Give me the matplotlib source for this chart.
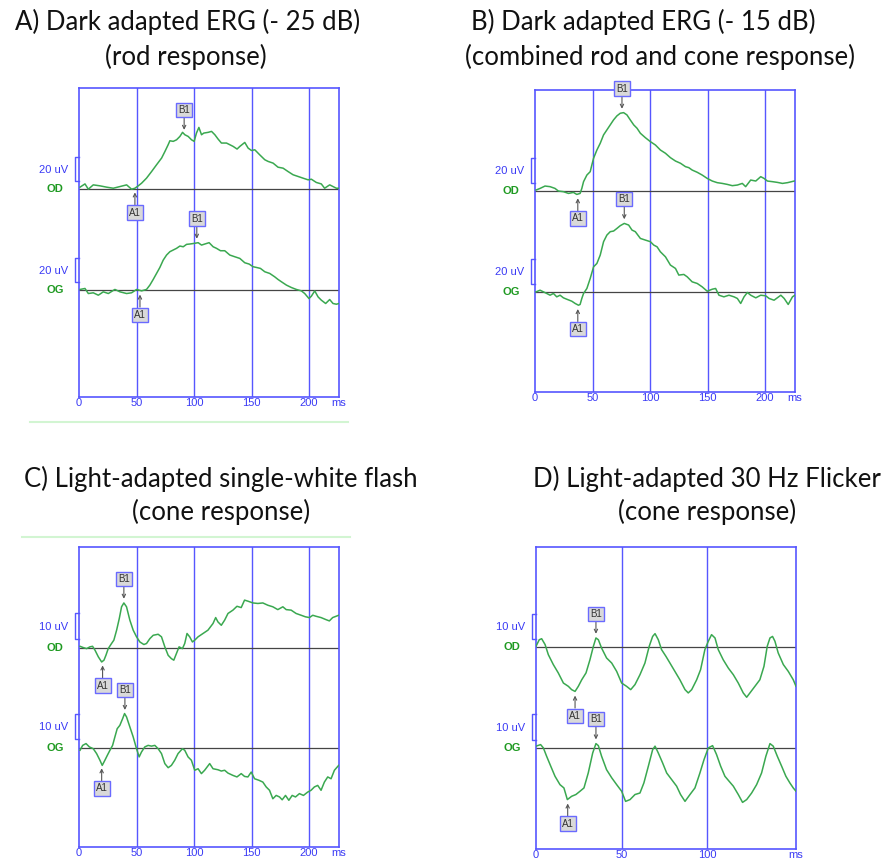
import numpy as np
import matplotlib
matplotlib.use("Agg")
import matplotlib.pyplot as plt
from matplotlib.lines import Line2D

plt.rcParams['font.family'] = ['Liberation Sans', 'DejaVu Sans']

# ERG traces: (time ms, amplitude uV)
a_od = [(0.9, 1.7), (5.2, 4.4), (8.1, 0.0), (12.4, 3.6), (18.2, 2.8), (24.0, 1.7), (29.8, 0.8),
        (35.6, 2.2), (41.4, 3.6), (45.7, 0.0), (48.6, 0.8), (51.5, 2.8), (54.4, 5.0), (58.7, 9.2),
        (63.1, 14.7), (67.4, 20.3), (71.8, 25.9), (74.7, 31.4), (77.5, 37.0), (79.0, 40.3),
        (81.9, 39.8), (84.8, 41.1), (87.7, 43.9), (90.0, 47.3), (92.0, 45.3), (94.9, 43.9),
        (97.8, 41.1), (100.1, 39.8), (102.1, 46.7), (104.2, 51.4), (106.5, 45.3), (108.5, 46.7),
        (112.3, 47.3), (115.2, 48.1), (118.1, 45.3), (120.9, 41.7), (123.8, 38.4), (128.2, 38.4),
        (131.1, 37.0), (134.0, 35.6), (137.4, 33.4), (139.8, 35.6), (144.1, 38.9), (147.0, 34.2),
        (149.9, 32.2), (152.8, 32.8), (157.1, 28.6), (161.5, 24.5), (164.4, 23.1), (168.7, 21.7),
        (173.0, 18.3), (177.4, 17.5), (181.7, 14.7), (186.1, 12.0), (190.4, 10.6), (194.7, 9.2),
        (199.1, 7.8), (202.0, 8.3), (206.3, 5.6), (210.6, 4.4), (213.5, 0.8), (217.9, 3.6),
        (220.8, 2.2), (223.7, 0.8), (226.0, 0.8)]
a_og = [(0.9, 0.6), (5.2, 1.4), (8.1, -2.8), (12.4, -2.2), (16.8, -4.2), (21.1, -1.4), (25.5, -2.8),
        (31.2, 0.6), (35.6, -1.4), (41.4, -2.8), (45.7, -2.2), (50.1, 0.6), (54.4, -0.6), (58.7, 0.6),
        (61.6, 4.2), (64.5, 8.9), (67.4, 13.9), (70.3, 18.9), (73.2, 25.0), (76.1, 29.2), (79.0, 32.0),
        (81.9, 33.4), (84.8, 34.8), (87.7, 36.7), (90.6, 36.1), (93.5, 38.1), (96.4, 38.4),
        (100.1, 38.9), (103.6, 39.5), (106.5, 37.5), (109.4, 38.4), (113.1, 39.5), (116.6, 36.1),
        (119.5, 34.8), (123.0, 32.8), (126.7, 32.8), (131.1, 29.2), (135.4, 27.8), (139.8, 26.4),
        (144.1, 22.8), (147.9, 21.7), (151.3, 19.5), (154.2, 18.9), (157.7, 18.1), (161.5, 15.3),
        (165.8, 13.9), (170.1, 11.1), (173.0, 8.9), (175.9, 7.0), (180.3, 4.2), (184.6, 2.2),
        (188.9, 0.6), (193.3, -0.6), (196.2, -2.8), (199.9, -7.0), (202.0, -5.0), (204.9, -0.6),
        (207.8, -5.6), (210.6, -8.3), (214.4, -11.1), (217.9, -7.8), (220.8, -11.1), (223.7, -11.7),
        (226.0, -11.1)]

b_od = [(0.9, 0.8), (4.4, 2.1), (8.7, 4.0), (13.1, 3.5), (17.4, 2.1), (20.3, 0.0), (24.7, -0.5),
        (29.1, -1.9), (33.4, -1.1), (36.3, -2.7), (39.2, -1.9), (40.7, 2.1), (42.2, 7.5), (45.1, 12.8),
        (48.0, 15.5), (49.4, 20.8), (50.9, 26.2), (53.8, 32.8), (56.7, 38.2), (59.6, 44.9),
        (62.5, 48.9), (65.4, 52.9), (68.3, 56.9), (71.2, 60.1), (74.1, 62.2), (77.0, 62.7),
        (79.9, 60.9), (82.8, 56.9), (85.8, 52.9), (88.7, 50.2), (91.6, 46.2), (95.9, 42.7),
        (100.3, 39.5), (104.7, 36.8), (109.0, 32.8), (113.4, 30.2), (117.7, 26.7), (122.1, 24.0),
        (126.5, 22.2), (130.8, 19.5), (133.7, 18.7), (136.6, 16.8), (141.0, 15.0), (145.3, 12.8),
        (149.7, 10.1), (154.1, 8.0), (158.4, 6.7), (162.8, 6.1), (167.2, 5.3), (171.5, 4.3),
        (175.9, 4.8), (180.2, 6.1), (183.1, 3.5), (187.5, 8.8), (191.9, 8.0), (196.2, 11.5),
        (199.1, 10.1), (202.0, 8.0), (206.4, 7.5), (210.8, 6.9), (215.1, 6.1), (219.5, 6.7),
        (225.3, 8.0)]
b_og = [(0.9, 0.0), (4.4, 1.3), (7.3, 0.0), (10.2, -1.3), (13.1, -2.7), (16.0, -1.3), (18.9, -4.0),
        (21.8, -2.7), (24.7, -4.8), (27.6, -5.9), (32.0, -7.5), (34.9, -9.3), (37.8, -10.7),
        (39.2, -10.1), (40.7, -5.3), (42.2, -1.3), (45.1, 2.7), (48.0, 10.7), (50.9, 20.0),
        (53.8, 22.7), (56.7, 29.4), (59.6, 40.1), (62.5, 45.4), (65.4, 48.1), (68.3, 48.6),
        (71.2, 50.7), (74.1, 52.9), (77.6, 54.7), (81.4, 53.4), (84.3, 49.4), (87.2, 48.1),
        (91.6, 42.7), (95.9, 41.4), (100.3, 40.1), (103.2, 37.4), (106.1, 36.0), (109.0, 32.0),
        (113.4, 28.0), (117.7, 21.4), (122.1, 18.7), (125.0, 13.4), (129.4, 13.9), (132.3, 12.0),
        (136.6, 8.0), (141.0, 6.7), (145.3, 4.0), (149.7, 0.5), (154.1, 2.1), (157.0, 2.7),
        (159.9, -2.7), (164.2, -4.0), (168.6, -2.7), (173.0, -4.0), (175.9, -5.3), (178.8, -9.3),
        (181.7, -4.0), (184.6, -0.5), (187.5, -2.7), (191.9, -4.8), (196.2, -2.7), (200.6, -3.2),
        (203.5, -5.3), (207.8, -6.7), (213.7, -2.7), (216.6, -5.3), (220.1, -10.1), (223.8, -4.0),
        (225.9, -2.7)]

c_od = [(0.9, 0.5), (3.8, 0.0), (6.6, -0.4), (9.5, 0.3), (11.8, 0.5), (13.9, -1.0), (16.8, -3.6),
        (19.7, -5.6), (21.7, -4.9), (23.4, -3.0), (25.4, -0.4), (28.3, 1.6), (30.3, 2.9), (32.7, 6.8),
        (35.0, 11.3), (37.0, 15.9), (39.0, 17.4), (41.3, 15.9), (44.2, 10.7), (47.1, 6.8), (50.0, 4.2),
        (52.9, 2.2), (56.4, 1.2), (58.7, 1.6), (61.6, 3.5), (64.5, 4.8), (68.8, 5.2), (71.7, 4.2),
        (74.6, 0.3), (77.5, -3.0), (80.3, -4.3), (82.4, -4.9), (84.7, -2.3), (87.0, 0.3), (89.9, -0.4),
        (91.9, 1.6), (93.9, 5.5), (96.2, 4.2), (98.6, 2.2), (100.6, 2.9), (103.5, 4.2), (107.8, 5.5),
        (112.1, 6.8), (116.5, 9.4), (118.8, 11.7), (120.8, 10.0), (123.7, 8.7), (126.6, 10.7),
        (129.5, 13.3), (133.8, 14.6), (137.3, 16.1), (141.0, 15.6), (143.9, 18.5), (146.8, 18.1),
        (151.2, 17.4), (155.5, 17.2), (159.8, 17.4), (164.2, 16.5), (168.5, 15.9), (172.8, 14.8),
        (177.2, 15.9), (180.1, 14.8), (184.4, 14.6), (188.7, 13.3), (193.1, 12.6), (196.8, 12.0),
        (200.3, 11.7), (203.2, 12.6), (206.1, 12.2), (210.4, 11.7), (214.7, 10.9), (217.6, 10.4),
        (220.5, 11.7), (223.4, 12.2), (225.7, 12.6)]
c_og = [(0.9, -0.9), (3.2, 1.0), (6.1, 1.7), (9.0, 0.4), (12.4, -0.3), (15.3, -2.2), (18.2, -4.8),
        (20.2, -6.8), (22.5, -4.8), (24.6, -2.9), (26.9, -0.9), (29.2, 1.0), (31.2, 4.3), (33.2, 7.5),
        (35.5, 8.8), (37.9, 11.4), (39.6, 13.4), (41.3, 12.1), (44.2, 8.2), (47.1, 4.3), (50.0, -0.3),
        (52.3, -3.5), (54.3, -1.6), (57.2, 0.4), (60.1, 1.0), (63.0, 0.7), (65.9, 1.0), (68.8, -0.3),
        (71.7, -2.2), (74.6, -6.1), (77.5, -7.7), (80.3, -6.8), (83.2, -4.8), (86.1, -2.2),
        (89.9, -0.3), (91.9, -0.9), (94.8, -3.5), (97.7, -4.8), (100.6, -8.7), (103.5, -8.1),
        (106.4, -10.0), (109.2, -8.7), (113.6, -6.1), (116.5, -8.1), (120.8, -8.5), (123.7, -9.0),
        (126.6, -8.7), (129.5, -9.8), (133.8, -10.7), (137.3, -11.3), (141.0, -10.0), (143.9, -11.1),
        (146.8, -11.3), (149.7, -9.4), (152.6, -12.0), (156.4, -12.6), (159.8, -13.3), (162.7, -15.2),
        (165.6, -16.5), (168.5, -19.8), (171.4, -18.5), (174.3, -19.1), (176.6, -20.2), (179.5, -18.5),
        (182.4, -20.4), (185.3, -18.5), (188.2, -19.1), (191.6, -17.8), (195.1, -18.5), (198.8, -17.2),
        (201.7, -16.5), (204.6, -15.2), (207.5, -14.6), (210.4, -16.5), (213.3, -13.3), (216.2, -11.3),
        (219.1, -12.0), (222.0, -8.7), (225.7, -6.8)]

d_od = [(0.0, 0.4), (1.9, 3.0), (3.3, 3.4), (5.3, 1.1), (7.2, -2.9), (10.1, -6.8), (13.0, -10.1),
        (16.0, -14.1), (18.9, -15.4), (20.8, -16.7), (22.8, -17.4), (24.7, -15.4), (26.7, -12.8),
        (29.2, -10.1), (31.5, -4.9), (33.5, 0.4), (35.0, 3.7), (36.4, 3.0), (38.3, -0.3), (41.2, -4.2),
        (44.2, -6.2), (47.1, -9.5), (50.0, -14.1), (52.9, -15.4), (55.3, -16.7), (57.8, -14.7),
        (60.7, -10.8), (63.6, -6.2), (66.1, 0.4), (68.1, 4.3), (69.5, 5.4), (71.4, 3.0), (73.3, -0.9),
        (75.9, -3.6), (78.2, -6.2), (81.1, -9.5), (84.0, -12.8), (87.0, -16.7), (88.9, -18.0),
        (90.9, -16.7), (93.8, -12.8), (96.1, -8.8), (98.6, -0.9), (100.6, 2.4), (102.5, 5.0),
        (104.5, 3.7), (106.4, -0.9), (109.3, -4.9), (112.3, -8.2), (115.2, -10.8), (118.1, -14.1),
        (121.0, -18.0), (123.0, -19.7), (124.9, -18.0), (127.8, -15.4), (130.7, -12.8), (133.1, -7.5),
        (135.0, 0.4), (136.6, 3.7), (138.1, 4.3), (139.5, 2.4), (141.4, -2.2), (144.4, -6.8),
        (147.3, -9.5), (150.2, -12.8), (151.8, -15.4)]
d_og = [(0.0, 0.7), (2.7, 1.3), (4.3, 0.0), (6.2, -3.3), (8.6, -7.2), (11.1, -11.2), (14.0, -14.5),
        (16.3, -15.8), (18.3, -20.4), (20.8, -19.1), (23.3, -18.4), (25.7, -17.1), (28.0, -15.8),
        (30.5, -9.9), (33.1, -2.0), (35.0, 1.7), (36.4, 0.9), (38.3, -3.3), (41.2, -8.6), (44.2, -11.8),
        (47.1, -14.5), (50.0, -17.1), (52.3, -21.1), (54.9, -20.4), (57.8, -18.4), (60.7, -17.8),
        (63.0, -13.8), (65.6, -7.2), (68.1, -0.7), (69.5, 0.7), (71.4, -2.0), (73.9, -5.9),
        (76.3, -9.9), (79.2, -12.5), (82.1, -15.1), (84.4, -18.4), (87.0, -21.1), (89.9, -18.4),
        (92.8, -15.8), (95.7, -9.9), (98.1, -4.6), (100.6, 0.0), (103.1, 0.9), (105.4, -2.6),
        (107.8, -7.2), (110.3, -11.2), (112.8, -13.2), (115.2, -15.1), (118.1, -18.4), (120.6, -21.5),
        (123.0, -20.4), (125.9, -17.8), (128.8, -14.5), (131.7, -9.9), (134.2, -3.3), (136.6, 1.7),
        (138.5, 0.7), (140.9, -3.3), (143.4, -7.2), (145.9, -11.2), (148.2, -13.8), (150.2, -15.8),
        (151.8, -17.1)]

# A1 / B1 latencies (ms) for OD and OG
a_marks = [(48.6, 91.4), (53.0, 102.4)]
b_marks = [(37.2, 75.6), (37.2, 77.6)]
c_marks = [(20.5, 39.0), (19.7, 39.9)]
d_marks = [(22.8, 35.0), (18.5, 35.0)]

titles = [("A) Dark adapted ERG (- 25 dB)", "(rod response)"),
          ("B) Dark adapted ERG (- 15 dB)", "(combined rod and cone response)"),
          ("C) Light-adapted single-white flash", "(cone response)"),
          ("D) Light-adapted 30 Hz Flicker", "(cone response)")]

BLUE = '#5656ff'
BLUE_TXT = '#3a3af5'
GREEN = '#3aa850'
GREEN_LBL = '#1f9a22'

W, H = 886, 863
fig = plt.figure(figsize=(W / 100, H / 100), dpi=100)


def px_axes(left, top, right, bottom):
    return fig.add_axes([left / W, 1 - bottom / H, (right - left) / W, (bottom - top) / H])


def draw_panel(ax, xmax, ylim, gap, scale, ticks, traces, marks):
    ax.set_xlim(0, xmax)
    ax.set_ylim(*ylim)
    for s in ax.spines.values():
        s.set_color(BLUE)
        s.set_linewidth(1.2)
    ax.set_yticks([])
    ax.set_xticks(ticks)
    ax.tick_params(axis='x', length=0, pad=1.0, labelsize=8, labelcolor=BLUE_TXT)
    for t in ticks[1:]:
        ax.axvline(t, color=BLUE, lw=1.0, zorder=1)
    ax.annotate('ms', xy=(xmax, 0), xycoords=('data', 'axes fraction'), xytext=(0, -1.0),
                textcoords='offset points', ha='center', va='top', fontsize=8,
                color=BLUE_TXT, annotation_clip=False)
    bx = -4 / ax.bbox.width
    for k, (name, trace, (ta, tb)) in enumerate(zip(['OD', 'OG'], traces, marks)):
        base = -gap * k
        t, v = np.array(trace).T
        v = v + base
        ax.axhline(base, color='#454545', lw=0.9, zorder=2)
        ax.plot(t, v, color=GREEN, lw=1.1, zorder=3)
        lo, hi = base + 0.33 * scale, base + 1.33 * scale
        ax.plot([0, bx, bx, 0], [lo, lo, hi, hi], transform=ax.get_yaxis_transform(),
                color=BLUE, lw=1.0, clip_on=False)
        ax.annotate(f'{scale} uV', xy=(0, base + 0.8 * scale), xycoords=('axes fraction', 'data'),
                    xytext=(-7.5, 0), textcoords='offset points', ha='right', va='center',
                    fontsize=8, color=BLUE_TXT)
        ax.annotate(name, xy=(0, base), xycoords=('axes fraction', 'data'), xytext=(-17.3, 0),
                    textcoords='offset points', ha='center', va='center', fontsize=8,
                    fontweight='bold', color=GREEN_LBL)
        for lab, tm, sign in (('A1', ta, -1), ('B1', tb, 1)):
            yv = np.interp(tm, t, v)
            ax.annotate(lab, xy=(tm, yv), xytext=(0, sign * 17.5), textcoords='offset points',
                        ha='center', va='center', fontsize=7, color='#333333', zorder=5,
                        bbox=dict(boxstyle='square,pad=0.22', fc='#d9d9d9', ec='#6a6aff', lw=1.0),
                        arrowprops=dict(arrowstyle='->', color='#555555', lw=0.8,
                                        shrinkA=0, shrinkB=3, mutation_scale=6))


ax_a = px_axes(79, 88, 339, 397)
draw_panel(ax_a, 226, (-172.9, 84.2), 84.0, 20, [0, 50, 100, 150, 200], [a_od, a_og], a_marks)
ax_b = px_axes(535, 90, 795, 392)
draw_panel(ax_b, 226, (-160.7, 80.8), 80.6, 20, [0, 50, 100, 150, 200], [b_od, b_og], b_marks)
ax_c = px_axes(79, 547, 339, 847)
draw_panel(ax_c, 226, (-77.7, 39.2), 39.1, 10, [0, 50, 100, 150, 200], [c_od, c_og], c_marks)
ax_d = px_axes(536, 547, 796, 849)
draw_panel(ax_d, 151.8, (-79.6, 39.6), 39.7, 10, [0, 50, 100], [d_od, d_og], d_marks)

# panel titles
title_pos = [((188, 22), (186, 57)), ((643, 22), (660, 57)),
             ((221, 479), (221, 512)), ((707, 479), (707, 512))]
for (l1, l2), ((x1, y1), (x2, y2)) in zip(titles, title_pos):
    fig.text(x1 / W, 1 - y1 / H, l1, ha='center', va='center', fontsize=18.5,
             family=['Lato', 'DejaVu Sans'], color='#111111')
    fig.text(x2 / W, 1 - y2 / H, l2, ha='center', va='center', fontsize=18.5,
             family=['Lato', 'DejaVu Sans'], color='#111111')

# faint separator lines from the original layout
fig.add_artist(Line2D([30 / W, 348 / W], [1 - 422 / H] * 2, color='#d2f5d2', lw=1.5))
fig.add_artist(Line2D([22 / W, 350 / W], [1 - 537 / H] * 2, color='#d2f5d2', lw=1.5))

fig.savefig('out.png', dpi=100, facecolor='white')
